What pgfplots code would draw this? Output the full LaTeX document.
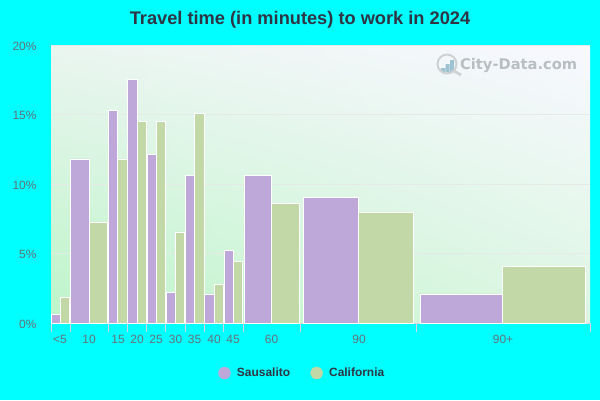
\documentclass[border=0pt]{standalone}
\usepackage{fontspec}
\setmainfont{Liberation Sans}
\newfontfamily\wmfont{DejaVu Sans}
\usepackage{pgfplots}
\usetikzlibrary{shadings}
\pgfplotsset{compat=1.18}
\definecolor{pagebg}{HTML}{00FFFF}
\definecolor{sausalito}{HTML}{BEA8DA}
\definecolor{california}{HTML}{C3D8A7}
\definecolor{titlecol}{HTML}{2F3544}
\definecolor{tickcol}{HTML}{66707A}
\definecolor{tickline}{HTML}{D4D4E4}
\definecolor{gridcol}{HTML}{E6EAE6}
\definecolor{wmcol}{HTML}{B9BEC2}
\definecolor{bgll}{HTML}{BCF5C8}
\definecolor{bglr}{HTML}{DCF6E2}
\definecolor{bgul}{HTML}{EAF5F0}
\definecolor{bgur}{HTML}{F8F8FF}
\definecolor{wmbar}{HTML}{9DC3D2}
% x values are pixel columns of the reference, bins are not evenly spaced
\newcommand{\sbar}[3]{\addplot[forget plot,fill=sausalito,draw=white,line width=0.8bp] coordinates {(#1,0) (#1,#3) (#2,#3) (#2,0)} \closedcycle;}
\newcommand{\cbar}[3]{\addplot[forget plot,fill=california,draw=white,line width=0.8bp] coordinates {(#1,0) (#1,#3) (#2,#3) (#2,0)} \closedcycle;}
\begin{document}
\begin{tikzpicture}[x=1bp,y=1bp]
\useasboundingbox (0,0) rectangle (600,400);
\fill[pagebg] (0,0) rectangle (600,400);
\shade[lower left=bgll,lower right=bglr,upper left=bgul,upper right=bgur]
  (51,77) rectangle (590,355);
\begin{axis}[
    at={(51bp,77bp)}, anchor=south west,
    width=539bp, height=278bp, scale only axis,
    xmin=51, xmax=590, ymin=0, ymax=20,
    axis x line=bottom, axis y line=left,
    axis line style={-},
    y axis line style={draw=none},
    x axis line style={draw=tickline,line width=0.8bp},
    tick align=outside,
    xtick={51,70,108,127,146,165,185,204,223,243,300,416,590},
    xticklabels={},
    major tick length=9bp,
    x tick style={draw=tickline,line width=0.8bp},
    extra x ticks={60,89,118,137,156,175.5,194.5,214,233,271.5,359,503},
    extra x tick labels={{<5},10,15,20,25,30,35,40,45,60,90,90+},
    extra x tick style={major tick length=0pt,tick style={draw=none},
      grid=none},
    ytick={0,5,10,15,20},
    yticklabels={0\%,5\%,10\%,15\%,20\%},
    y tick style={draw=none},
    ymajorgrids,
    grid style={draw=gridcol,line width=0.8bp},
    tick label style={font=\fontsize{12}{12}\selectfont,text=tickcol},
    xticklabel style={yshift=-9bp},
    yticklabel style={xshift=-2bp,yshift=-1bp},
    title={Travel time (in minutes) to work in 2024},
    title style={at={(0.462,1)},anchor=center,yshift=19bp,
      font=\fontsize{18.3}{18}\selectfont\bfseries,text=titlecol},
    legend style={at={(0.4705,-0.18)},anchor=center,draw=none,fill=none,
      legend columns=2,font=\fontsize{12}{12}\selectfont\bfseries,
      text=titlecol,nodes={inner xsep=6.5bp},
      /tikz/every even column/.append style={column sep=14bp}},
    legend cell align=left,
]
\sbar{51}{60.3}{0.65}     \cbar{60.3}{69.3}{1.87}
\sbar{70.3}{89.3}{11.8}   \cbar{89.3}{107.7}{7.27}
\sbar{108.3}{117.3}{15.3} \cbar{117.3}{127.3}{11.8}
\sbar{127.3}{137.3}{17.5} \cbar{137.3}{146.3}{14.5}
\sbar{147.3}{156.3}{12.1} \cbar{156.3}{165.3}{14.5}
\sbar{166.3}{175.3}{2.23} \cbar{175.3}{184.3}{6.55}
\sbar{185.3}{194.3}{10.6} \cbar{194.3}{204.3}{15.1}
\sbar{204.3}{214.3}{2.09} \cbar{214.3}{223.3}{2.8}
\sbar{224.3}{233.3}{5.25} \cbar{233.3}{242.3}{4.46}
\sbar{244.3}{271.3}{10.6} \cbar{271.3}{299.3}{8.63}
\sbar{303.3}{358.3}{9.06} \cbar{358.3}{413.3}{7.99}
\sbar{420.3}{502.3}{2.09} \cbar{502.3}{585.3}{4.1}
\addlegendimage{only marks,mark=*,mark size=6bp,color=sausalito}
\addlegendentry{Sausalito}
\addlegendimage{only marks,mark=*,mark size=6bp,color=california}
\addlegendentry{California}
\end{axis}
% watermark
\node[anchor=west,inner sep=0pt,text=wmcol,font=\fontsize{14.7}{15}\selectfont\wmfont\bfseries] at (460,334) {City-Data.com};
\fill[wmbar] (441,328) rectangle (445,332) (445.5,328) rectangle (449.5,336) (450,328) rectangle (454,340);
\draw[wmcol!70,line width=2bp] (447,336) circle (9.5);
\draw[wmcol!70,line width=2.6bp] (454,329) -- (461,325);
\end{tikzpicture}
\end{document}
